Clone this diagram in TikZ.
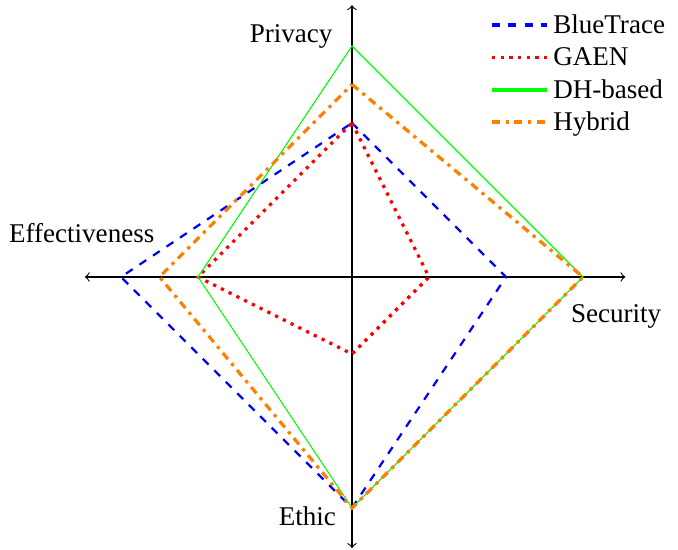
\documentclass[tikz,border=0pt]{standalone}
\usepackage{fontspec}
\setmainfont{Liberation Serif}
\usetikzlibrary{positioning}

\tikzset{
  bluetrace/.style={blue,thick,dashed},
  gaen/.style={red,very thick,dotted},
  dhbased/.style={green},
  hybrid/.style={orange,very thick,dashdotted},
  legendline/.style={line width=1.3pt},
  legendtext/.style={inner sep=0pt,text height=1.6ex,text depth=.3ex},
}

\begin{document}
\begin{tikzpicture}
    \useasboundingbox (-4.571,-3.545) rectangle (4.234,3.597);

    % axes
    \coordinate (west) at (-3.47,0);
    \coordinate (east) at (3.55,0);
    \coordinate (north) at (0,3.53);
    \coordinate (south) at (0,-3.52);
    \draw[<->] (west) -- (east);
    \draw[<->] (south) -- (north);

    \node (privacy) at (-0.79,3.12) {Privacy};
    \node (security) at (3.43,-0.51) {Security};
    \node (ethic) at (-0.58,-3.11) {Ethic};
    \node (effectiveness) at (-3.51,0.57) {Effectiveness};

    % privacy / security / ethic / effectiveness
    \foreach \s/\p/\r/\e/\f in {bt/2/2/3/3,ga/2/1/1/2,dh/3/3/3/2,hy/2.5/3/3/2.5}{
      \coordinate (\s-p) at (0,\p);
      \coordinate (\s-r) at (\r,0);
      \coordinate (\s-e) at (0,-\e);
      \coordinate (\s-f) at (-\f,0);
    }

    \draw[bluetrace] (bt-p) -- (bt-r) -- (bt-e) -- (bt-f) -- cycle;
    \draw[gaen] (ga-p) -- (ga-r) -- (ga-e) -- (ga-f) -- cycle;
    \draw[dhbased] (dh-p) -- (dh-r) -- (dh-e) -- (dh-f) -- cycle;
    \draw[hybrid] (hy-p) -- (hy-r) -- (hy-e) -- (hy-f) -- cycle;

    % legend
    \coordinate (lg1a) at (1.82,3.273);
    \coordinate (lg1b) at (2.53,3.273);
    \coordinate (lg2a) at (1.82,2.851);
    \coordinate (lg2b) at (2.53,2.851);
    \coordinate (lg3a) at (1.82,2.429);
    \coordinate (lg3b) at (2.53,2.429);
    \coordinate (lg4a) at (1.82,2.013);
    \coordinate (lg4b) at (2.53,2.013);

    \draw[bluetrace,legendline] (lg1a) -- (lg1b);
    \draw[gaen,legendline] (lg2a) -- (lg2b);
    \draw[dhbased,legendline] (lg3a) -- (lg3b);
    \draw[hybrid,legendline] (lg4a) -- (lg4b);

    \node[legendtext,right=2.2pt of lg1b] (lgbt) {BlueTrace};
    \node[legendtext,right=2.2pt of lg2b] (lgga) {GAEN};
    \node[legendtext,right=2.2pt of lg3b] (lgdh) {DH-based};
    \node[legendtext,right=2.2pt of lg4b] (lghy) {Hybrid};
\end{tikzpicture}
\end{document}
